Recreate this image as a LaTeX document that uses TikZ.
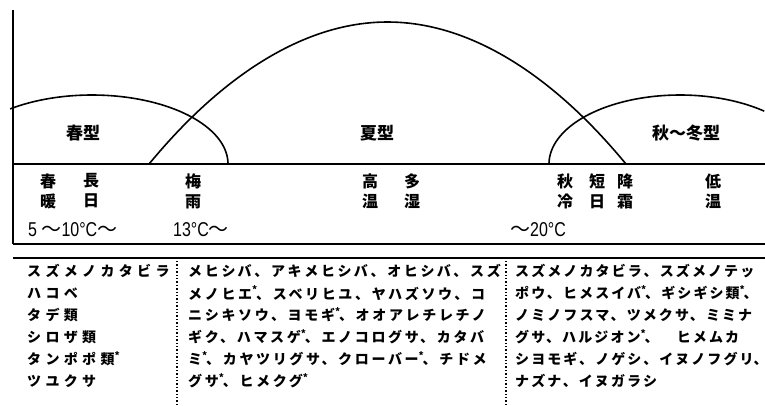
\documentclass[tikz,border=0pt]{standalone}
\usepackage{fontspec}
\newfontfamily\jp{Noto Sans CJK JP}
\newfontfamily\tempfont[FakeStretch=0.8]{Liberation Sans}
\tikzset{
  rule/.style={line width=1.9pt},
  curve/.style={line width=1.6pt},
  sepline/.style={dotted, line width=1.4pt},
  typelab/.style={font=\jp\bfseries\fontsize{17}{17}\selectfont, inner sep=0},
  pairlab/.style={font=\jp\bfseries\fontsize{16}{20}\selectfont, align=center, inner sep=0},
  templab/.style={font=\tempfont\fontsize{20}{20}\selectfont, inner sep=0, anchor=west},
  cellL/.style={anchor=west, inner sep=0, font=\jp\bfseries\fontsize{14}{14}\selectfont\addfontfeatures{LetterSpace=31}},
  cellM/.style={anchor=west, inner sep=0, font=\jp\bfseries\fontsize{14}{14}\selectfont\addfontfeatures{LetterSpace=19}},
  cellR/.style={anchor=west, inner sep=0, font=\jp\bfseries\fontsize{14}{14}\selectfont\addfontfeatures{LetterSpace=15}}
}
\newcommand{\mystar}{\makebox[4pt][l]{\textsuperscript{*}}}
\newcommand{\lastcomma}{\makebox[6pt][l]{、}}
\newcommand{\wave}{{\jp ～}}
\begin{document}
\begin{tikzpicture}[x=1pt,y=-1pt]
\useasboundingbox (0,0) rectangle (765,405);
% frame lines
\draw[rule] (13,10) -- (13,244);
\draw[rule] (13,164) -- (765,164);
\draw[rule] (13,244) -- (765,244);
\draw[rule] (13,258) -- (765,258);
\draw[sepline] (177,261) -- (177,405);
\draw[sepline] (506,261) -- (506,405);
% curves
\draw[curve] plot[domain=127:0, samples=80] ({92+136*cos(\x)}, {164-69*sin(\x)});
\draw[curve] (149,164) parabola bend (387.5,22) (626,164);
\draw[curve] plot[domain=180:50, samples=80] ({680+131*cos(\x)}, {164-69*sin(\x)});
% type labels
\node[typelab] (spring) at (83,133) {春型};
\node[typelab] (summer) at (377,133) {夏型};
\node[typelab] (autumn) at (686,133) {秋～冬型};
% condition pairs
\node[pairlab] (p1) at (48,191) {春\\暖};
\node[pairlab] (p2) at (91,191) {長\\日};
\node[pairlab] (p3) at (193,191) {梅\\雨};
\node[pairlab] (p4) at (370,191) {高\\温};
\node[pairlab] (p5) at (412,191) {多\\湿};
\node[pairlab] (p6) at (565,191) {秋\\冷};
\node[pairlab] (p7) at (597,191) {短\\日};
\node[pairlab] (p8) at (625,191) {降\\霜};
\node[pairlab] (p9) at (713,191) {低\\温};
% temperatures
\node[templab] (t1) at (28,230) {5 \wave10°C\wave};
\node[templab] (t2) at (173,230) {13°C\wave};
\node[templab] (t3) at (510,230) {\wave20°C};
% left column
\node[cellL] (l1) at (27,271) {スズメノカタビラ};
\node[cellL] (l2) at (27,293) {ハコベ};
\node[cellL] (l3) at (27,315) {タデ類};
\node[cellL] (l4) at (27,337) {シロザ類};
\node[cellL] (l5) at (27,359) {タンポポ類\mystar};
\node[cellL] (l6) at (27,381) {ツユクサ};
% middle column
\node[cellM] (m1) at (188,271) {メヒシバ、アキメヒシバ、オヒシバ、スズ};
\node[cellM] (m2) at (188,293) {メノヒエ\mystar、スベリヒユ、ヤハズソウ、コ};
\node[cellM] (m3) at (188,315) {ニシキソウ、ヨモギ\mystar、オオアレチレチノ};
\node[cellM] (m4) at (188,337) {ギク、ハマスゲ\mystar、エノコログサ、カタバ};
\node[cellM] (m5) at (188,359) {ミ\mystar、カヤツリグサ、クローバー\mystar、チドメ};
\node[cellM] (m6) at (188,381) {グサ\mystar、ヒメクグ\mystar};
% right column
\node[cellR] (r1) at (515,271) {スズメノカタビラ、スズメノテッ};
\node[cellR] (r2) at (515,293) {ポウ、ヒメスイバ\mystar、ギシギシ類\mystar\lastcomma};
\node[cellR] (r3) at (515,315) {ノミノフスマ、ツメクサ、ミミナ};
\node[cellR] (r4) at (515,337) {グサ、ハルジオン\mystar、　ヒメムカ};
\node[cellR] (r5) at (515,359) {シヨモギ、ノゲシ、イヌノフグリ\lastcomma};
\node[cellR] (r6) at (515,381) {ナズナ、イヌガラシ};
\end{tikzpicture}
\end{document}
